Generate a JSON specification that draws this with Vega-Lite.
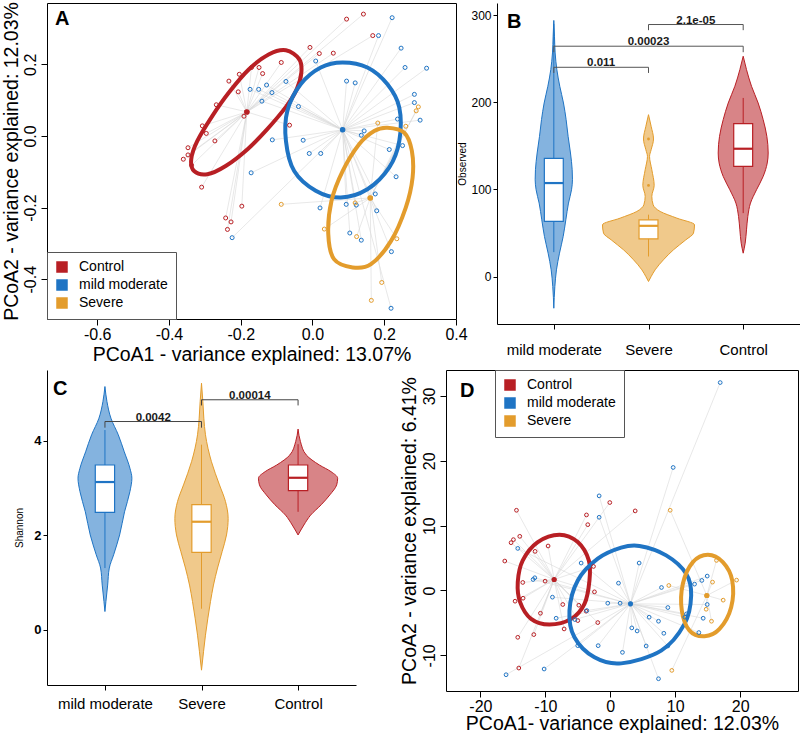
{
"$schema":"https://vega.github.io/schema/vega-lite/v6.json",
"padding":{"left":0,"top":1,"right":0,"bottom":0},
"config":{
 "font":"Liberation Sans",
 "view":{"stroke":null},
 "locale":{"number":{"decimal":".","thousands":",","grouping":[3],"currency":["$",""],"minus":"-"}},
 "axis":{"grid":false,"labelColor":"black","titleColor":"black","tickColor":"black","domainColor":"black","titleFontWeight":"normal"}
},
"datasets":{
"pcoaA":[
{"g":"Control","x":0.095,"y":0.326},{"g":"Control","x":0.142,"y":0.340},{"g":"Control","x":0.168,"y":0.280},{"g":"Control","x":-0.007,"y":0.247},{"g":"Control","x":0.019,"y":0.230},{"g":"Control","x":0.058,"y":0.231},{"g":"Control","x":-0.087,"y":0.205},{"g":"Control","x":-0.170,"y":0.191},{"g":"Control","x":-0.149,"y":0.191},{"g":"Control","x":-0.139,"y":0.174},{"g":"Control","x":-0.204,"y":0.172},{"g":"Control","x":-0.233,"y":0.153},{"g":"Control","x":-0.207,"y":0.123},{"g":"Control","x":-0.191,"y":0.055},{"g":"Control","x":-0.268,"y":0.087},{"g":"Control","x":-0.307,"y":0.028},{"g":"Control","x":-0.296,"y":0.007},{"g":"Control","x":-0.272,"y":-0.014},{"g":"Control","x":-0.347,"y":-0.033},{"g":"Control","x":-0.347,"y":-0.053},{"g":"Control","x":-0.360,"y":-0.065},{"g":"Control","x":-0.337,"y":-0.082},{"g":"Control","x":-0.309,"y":-0.143},{"g":"Control","x":-0.064,"y":0.030},{"g":"Control","x":-0.197,"y":-0.196},{"g":"Control","x":-0.242,"y":-0.229},{"g":"Control","x":-0.227,"y":-0.240},{"g":"Control","x":-0.237,"y":-0.261},
{"g":"mild moderate","x":0.222,"y":0.330},{"g":"mild moderate","x":0.184,"y":0.280},{"g":"mild moderate","x":0.247,"y":0.245},{"g":"mild moderate","x":0.009,"y":0.209},{"g":"mild moderate","x":0.258,"y":0.191},{"g":"mild moderate","x":0.318,"y":0.189},{"g":"mild moderate","x":0.095,"y":0.153},{"g":"mild moderate","x":0.119,"y":0.148},{"g":"mild moderate","x":-0.074,"y":0.152},{"g":"mild moderate","x":-0.128,"y":0.142},{"g":"mild moderate","x":-0.150,"y":0.130},{"g":"mild moderate","x":-0.174,"y":0.130},{"g":"mild moderate","x":-0.113,"y":0.121},{"g":"mild moderate","x":-0.141,"y":0.097},{"g":"mild moderate","x":-0.039,"y":0.082},{"g":"mild moderate","x":0.284,"y":0.116},{"g":"mild moderate","x":0.284,"y":0.093},{"g":"mild moderate","x":0.300,"y":0.044},{"g":"mild moderate","x":0.237,"y":0.047},{"g":"mild moderate","x":0.144,"y":0.014},{"g":"mild moderate","x":0.136,"y":0.002},{"g":"mild moderate","x":-0.026,"y":-0.012},{"g":"mild moderate","x":-0.112,"y":-0.011},{"g":"mild moderate","x":-0.009,"y":-0.049},{"g":"mild moderate","x":0.023,"y":-0.049},{"g":"mild moderate","x":0.214,"y":-0.038},{"g":"mild moderate","x":0.251,"y":-0.027},{"g":"mild moderate","x":0.233,"y":-0.114},{"g":"mild moderate","x":0.175,"y":-0.162},{"g":"mild moderate","x":0.094,"y":-0.191},{"g":"mild moderate","x":0.122,"y":-0.193},{"g":"mild moderate","x":0.021,"y":-0.201},{"g":"mild moderate","x":0.179,"y":-0.209},{"g":"mild moderate","x":0.104,"y":-0.271},{"g":"mild moderate","x":0.136,"y":-0.291},{"g":"mild moderate","x":0.220,"y":-0.323},{"g":"mild moderate","x":0.219,"y":-0.481},{"g":"mild moderate","x":-0.171,"y":-0.103},{"g":"mild moderate","x":-0.224,"y":-0.284},
{"g":"Severe","x":0.295,"y":0.081},{"g":"Severe","x":0.289,"y":0.070},{"g":"Severe","x":0.260,"y":0.027},{"g":"Severe","x":0.182,"y":0.036},{"g":"Severe","x":0.119,"y":-0.187},{"g":"Severe","x":0.033,"y":-0.260},{"g":"Severe","x":0.123,"y":-0.281},{"g":"Severe","x":0.235,"y":-0.287},{"g":"Severe","x":0.193,"y":-0.409},{"g":"Severe","x":0.164,"y":-0.459},{"g":"Severe","x":-0.087,"y":-0.191}
],
"centA":[{"g":"Control","x":-0.183,"y":0.067},{"g":"mild moderate","x":0.084,"y":0.017},{"g":"Severe","x":0.161,"y":-0.173}],
"ellA":[
{"g":"Control","i":0,"x":-0.074,"y":0.239},{"g":"Control","i":1,"x":-0.037,"y":0.214},{"g":"Control","i":2,"x":-0.031,"y":0.177},{"g":"Control","i":3,"x":-0.044,"y":0.130},{"g":"Control","i":4,"x":-0.074,"y":0.081},{"g":"Control","i":5,"x":-0.126,"y":0.019},{"g":"Control","i":6,"x":-0.181,"y":-0.037},{"g":"Control","i":7,"x":-0.242,"y":-0.084},{"g":"Control","i":8,"x":-0.293,"y":-0.107},{"g":"Control","i":9,"x":-0.330,"y":-0.098},{"g":"Control","i":10,"x":-0.338,"y":-0.065},{"g":"Control","i":11,"x":-0.321,"y":-0.014},{"g":"Control","i":12,"x":-0.279,"y":0.056},{"g":"Control","i":13,"x":-0.233,"y":0.121},{"g":"Control","i":14,"x":-0.177,"y":0.186},{"g":"Control","i":15,"x":-0.121,"y":0.228},
{"g":"mild moderate","i":0,"x":0.084,"y":0.205},{"g":"mild moderate","i":1,"x":0.153,"y":0.191},{"g":"mild moderate","i":2,"x":0.209,"y":0.144},{"g":"mild moderate","i":3,"x":0.242,"y":0.079},{"g":"mild moderate","i":4,"x":0.242,"y":-0.014},{"g":"mild moderate","i":5,"x":0.214,"y":-0.088},{"g":"mild moderate","i":6,"x":0.153,"y":-0.149},{"g":"mild moderate","i":7,"x":0.079,"y":-0.172},{"g":"mild moderate","i":8,"x":0.009,"y":-0.153},{"g":"mild moderate","i":9,"x":-0.051,"y":-0.098},{"g":"mild moderate","i":10,"x":-0.074,"y":-0.014},{"g":"mild moderate","i":11,"x":-0.070,"y":0.070},{"g":"mild moderate","i":12,"x":-0.033,"y":0.144},{"g":"mild moderate","i":13,"x":0.023,"y":0.191},
{"g":"Severe","i":0,"x":0.209,"y":0.023},{"g":"Severe","i":1,"x":0.256,"y":0.009},{"g":"Severe","i":2,"x":0.277,"y":-0.042},{"g":"Severe","i":3,"x":0.279,"y":-0.116},{"g":"Severe","i":4,"x":0.260,"y":-0.200},{"g":"Severe","i":5,"x":0.219,"y":-0.293},{"g":"Severe","i":6,"x":0.163,"y":-0.358},{"g":"Severe","i":7,"x":0.112,"y":-0.367},{"g":"Severe","i":8,"x":0.060,"y":-0.344},{"g":"Severe","i":9,"x":0.044,"y":-0.274},{"g":"Severe","i":10,"x":0.053,"y":-0.181},{"g":"Severe","i":11,"x":0.084,"y":-0.098},{"g":"Severe","i":12,"x":0.130,"y":-0.023},{"g":"Severe","i":13,"x":0.172,"y":0.014}
],
"pcoaD":[
{"g":"Control","x":-14.45,"y":12.37},{"g":"Control","x":-13.94,"y":8.35},{"g":"Control","x":-14.92,"y":7.84},{"g":"Control","x":-15.28,"y":7.37},{"g":"Control","x":-16.25,"y":4.54},{"g":"Control","x":-11.58,"y":6.03},{"g":"Control","x":-9.58,"y":6.86},{"g":"Control","x":-3.67,"y":11.65},{"g":"Control","x":-3.47,"y":10.15},{"g":"Control","x":-0.08,"y":13.56},{"g":"Control","x":3.83,"y":12.27},{"g":"Control","x":-13.48,"y":1.24},{"g":"Control","x":-10.04,"y":1.44},{"g":"Control","x":-13.43,"y":-1.19},{"g":"Control","x":-14.66,"y":-1.65},{"g":"Control","x":-10.76,"y":-3.51},{"g":"Control","x":-7.32,"y":-2.16},{"g":"Control","x":-11.78,"y":-6.80},{"g":"Control","x":-14.25,"y":-7.22},{"g":"Control","x":-7.11,"y":-5.93},{"g":"Control","x":-5.01,"y":-4.64},{"g":"Control","x":-4.85,"y":-2.27},{"g":"Control","x":-2.44,"y":-0.21},{"g":"Control","x":-1.93,"y":-4.95},{"g":"Control","x":-2.59,"y":3.71},{"g":"Control","x":-3.72,"y":-3.20},{"g":"Control","x":-14.09,"y":-11.96},
{"g":"mild moderate","x":-1.72,"y":14.59},{"g":"mild moderate","x":-1.72,"y":11.29},{"g":"mild moderate","x":-14.25,"y":6.49},{"g":"mild moderate","x":-11.89,"y":1.70},{"g":"mild moderate","x":-11.63,"y":1.96},{"g":"mild moderate","x":-4.49,"y":4.23},{"g":"mild moderate","x":-8.91,"y":-1.03},{"g":"mild moderate","x":-8.34,"y":-4.28},{"g":"mild moderate","x":-5.47,"y":-4.48},{"g":"mild moderate","x":-3.62,"y":-3.09},{"g":"mild moderate","x":-0.39,"y":-1.96},{"g":"mild moderate","x":1.26,"y":1.13},{"g":"mild moderate","x":1.51,"y":-1.96},{"g":"mild moderate","x":-5.01,"y":-8.51},{"g":"mild moderate","x":-1.87,"y":-8.51},{"g":"mild moderate","x":-10.19,"y":-12.11},{"g":"mild moderate","x":-16.05,"y":-12.99},{"g":"mild moderate","x":16.92,"y":32.06},{"g":"mild moderate","x":9.68,"y":18.97},{"g":"mild moderate","x":4.44,"y":4.23},{"g":"mild moderate","x":7.88,"y":0.46},{"g":"mild moderate","x":8.86,"y":-2.63},{"g":"mild moderate","x":5.98,"y":-4.12},{"g":"mild moderate","x":7.42,"y":-4.74},{"g":"mild moderate","x":3.31,"y":-5.77},{"g":"mild moderate","x":4.13,"y":-6.24},{"g":"mild moderate","x":8.24,"y":-6.60},{"g":"mild moderate","x":5.52,"y":-8.56},{"g":"mild moderate","x":8.86,"y":-8.56},{"g":"mild moderate","x":1.87,"y":-9.54},{"g":"mild moderate","x":7.42,"y":-13.61},{"g":"mild moderate","x":12.97,"y":0.98},{"g":"mild moderate","x":14.09,"y":1.55},{"g":"mild moderate","x":14.92,"y":2.22},{"g":"mild moderate","x":14.92,"y":-2.16},{"g":"mild moderate","x":14.30,"y":-4.28},{"g":"mild moderate","x":11.48,"y":-4.12},{"g":"mild moderate","x":11.73,"y":-3.61},{"g":"mild moderate","x":13.63,"y":-6.49},
{"g":"Severe","x":9.22,"y":12.37},{"g":"Severe","x":9.01,"y":0.77},{"g":"Severe","x":15.74,"y":1.29},{"g":"Severe","x":16.35,"y":4.64},{"g":"Severe","x":19.44,"y":1.60},{"g":"Severe","x":17.38,"y":-1.49},{"g":"Severe","x":14.76,"y":-2.89},{"g":"Severe","x":15.58,"y":-4.74},{"g":"Severe","x":9.47,"y":-12.32}
],
"centD":[{"g":"Control","x":-8.65,"y":1.70},{"g":"mild moderate","x":3.11,"y":-2.06},{"g":"Severe","x":14.86,"y":-0.77}],
"ellD":[
{"g":"Control","i":0,"x":-7.83,"y":8.61},{"g":"Control","i":1,"x":-5.01,"y":7.47},{"g":"Control","i":2,"x":-3.31,"y":4.64},{"g":"Control","i":3,"x":-3.21,"y":1.55},{"g":"Control","i":4,"x":-3.98,"y":-2.06},{"g":"Control","i":5,"x":-6.03,"y":-4.38},{"g":"Control","i":6,"x":-9.37,"y":-5.26},{"g":"Control","i":7,"x":-12.20,"y":-4.38},{"g":"Control","i":8,"x":-13.89,"y":-1.80},{"g":"Control","i":9,"x":-14.25,"y":1.29},{"g":"Control","i":10,"x":-13.48,"y":4.64},{"g":"Control","i":11,"x":-11.17,"y":7.47},
{"g":"mild moderate","i":0,"x":4.49,"y":6.86},{"g":"mild moderate","i":1,"x":8.60,"y":5.41},{"g":"mild moderate","i":2,"x":11.68,"y":2.58},{"g":"mild moderate","i":3,"x":12.45,"y":-0.77},{"g":"mild moderate","i":4,"x":11.43,"y":-5.15},{"g":"mild moderate","i":5,"x":7.83,"y":-9.28},{"g":"mild moderate","i":6,"x":1.67,"y":-11.24},{"g":"mild moderate","i":7,"x":-2.44,"y":-10.31},{"g":"mild moderate","i":8,"x":-5.52,"y":-7.22},{"g":"mild moderate","i":9,"x":-6.29,"y":-3.09},{"g":"mild moderate","i":10,"x":-5.01,"y":1.55},{"g":"mild moderate","i":11,"x":-1.93,"y":4.90},{"g":"mild moderate","i":12,"x":1.67,"y":6.60},
{"g":"Severe","i":0,"x":15.02,"y":5.52},{"g":"Severe","i":1,"x":17.33,"y":4.38},{"g":"Severe","i":2,"x":18.77,"y":1.55},{"g":"Severe","i":3,"x":18.61,"y":-2.58},{"g":"Severe","i":4,"x":16.82,"y":-5.93},{"g":"Severe","i":5,"x":14.51,"y":-7.06},{"g":"Severe","i":6,"x":12.20,"y":-6.19},{"g":"Severe","i":7,"x":11.01,"y":-3.09},{"g":"Severe","i":8,"x":11.17,"y":1.03},{"g":"Severe","i":9,"x":12.71,"y":4.38}
],
"violB":[
{"g":"mild moderate","v":294,"w":0},{"g":"mild moderate","v":275.9,"w":0.007},{"g":"mild moderate","v":256.7,"w":0.014},{"g":"mild moderate","v":237.5,"w":0.032},{"g":"mild moderate","v":218.4,"w":0.063},{"g":"mild moderate","v":199.2,"w":0.102},{"g":"mild moderate","v":180.1,"w":0.130},{"g":"mild moderate","v":160.9,"w":0.151},{"g":"mild moderate","v":141.8,"w":0.176},{"g":"mild moderate","v":122.6,"w":0.194},{"g":"mild moderate","v":111.1,"w":0.197},{"g":"mild moderate","v":99.6,"w":0.187},{"g":"mild moderate","v":84.3,"w":0.155},{"g":"mild moderate","v":65.1,"w":0.127},{"g":"mild moderate","v":46.0,"w":0.099},{"g":"mild moderate","v":26.8,"w":0.060},{"g":"mild moderate","v":7.7,"w":0.028},{"g":"mild moderate","v":-11.5,"w":0.011},{"g":"mild moderate","v":-36.4,"w":0},
{"g":"Severe","v":185.8,"w":0},{"g":"Severe","v":172.4,"w":0.028},{"g":"Severe","v":157.9,"w":0.053},{"g":"Severe","v":145.6,"w":0.028},{"g":"Severe","v":137.9,"w":0.011},{"g":"Severe","v":122.6,"w":0.035},{"g":"Severe","v":104.6,"w":0.060},{"g":"Severe","v":92.0,"w":0.035},{"g":"Severe","v":82.4,"w":0.049},{"g":"Severe","v":74.7,"w":0.123},{"g":"Severe","v":67.0,"w":0.30},{"g":"Severe","v":59.4,"w":0.486},{"g":"Severe","v":49.8,"w":0.475},{"g":"Severe","v":42.1,"w":0.394},{"g":"Severe","v":30.7,"w":0.264},{"g":"Severe","v":19.2,"w":0.158},{"g":"Severe","v":7.7,"w":0.070},{"g":"Severe","v":0,"w":0.028},{"g":"Severe","v":-5.7,"w":0},
{"g":"Control","v":252.9,"w":0},{"g":"Control","v":237.5,"w":0.035},{"g":"Control","v":218.4,"w":0.088},{"g":"Control","v":199.2,"w":0.158},{"g":"Control","v":180.1,"w":0.211},{"g":"Control","v":160.9,"w":0.25},{"g":"Control","v":141.8,"w":0.264},{"g":"Control","v":130.3,"w":0.254},{"g":"Control","v":114.9,"w":0.211},{"g":"Control","v":99.6,"w":0.141},{"g":"Control","v":84.3,"w":0.077},{"g":"Control","v":69.0,"w":0.049},{"g":"Control","v":53.6,"w":0.035},{"g":"Control","v":38.3,"w":0.021},{"g":"Control","v":26.8,"w":0}
],
"boxB":[{"g":"mild moderate","lo":28,"q1":63.2,"med":107.3,"q3":135.6,"hi":290},{"g":"Severe","lo":23,"q1":43.3,"med":58.2,"q3":65.1,"hi":71},{"g":"Control","lo":72.8,"q1":126.4,"med":146.7,"q3":175.5,"hi":205}],
"outB":[{"g":"Severe","v":157.9},{"g":"Severe","v":104.6}],
"brB":[{"a":"mild moderate","b":"Severe","y":240.2,"t":233.7,"label":"0.011"},{"a":"mild moderate","b":"Control","y":264.4,"t":257.5,"label":"0.00023"},{"a":"Severe","b":"Control","y":289.3,"t":282.8,"label":"2.1e-05"}],
"violC":[
{"g":"mild moderate","v":5.15,"w":0},{"g":"mild moderate","v":4.83,"w":0.021},{"g":"mild moderate","v":4.48,"w":0.062},{"g":"mild moderate","v":4.13,"w":0.138},{"g":"mild moderate","v":3.77,"w":0.20},{"g":"mild moderate","v":3.42,"w":0.259},{"g":"mild moderate","v":3.21,"w":0.279},{"g":"mild moderate","v":2.93,"w":0.259},{"g":"mild moderate","v":2.50,"w":0.203},{"g":"mild moderate","v":2.01,"w":0.152},{"g":"mild moderate","v":1.59,"w":0.090},{"g":"mild moderate","v":1.31,"w":0.045},{"g":"mild moderate","v":0.95,"w":0.028},{"g":"mild moderate","v":0.60,"w":0.010},{"g":"mild moderate","v":0.39,"w":0},
{"g":"Severe","v":5.22,"w":0},{"g":"Severe","v":4.83,"w":0.014},{"g":"Severe","v":4.48,"w":0.024},{"g":"Severe","v":4.13,"w":0.041},{"g":"Severe","v":3.56,"w":0.103},{"g":"Severe","v":3.07,"w":0.186},{"g":"Severe","v":2.72,"w":0.248},{"g":"Severe","v":2.36,"w":0.276},{"g":"Severe","v":2.01,"w":0.259},{"g":"Severe","v":1.66,"w":0.214},{"g":"Severe","v":1.31,"w":0.166},{"g":"Severe","v":0.95,"w":0.124},{"g":"Severe","v":0.60,"w":0.093},{"g":"Severe","v":0.25,"w":0.066},{"g":"Severe","v":-0.11,"w":0.041},{"g":"Severe","v":-0.46,"w":0.021},{"g":"Severe","v":-0.85,"w":0},
{"g":"Control","v":4.25,"w":0},{"g":"Control","v":3.99,"w":0.024},{"g":"Control","v":3.70,"w":0.086},{"g":"Control","v":3.49,"w":0.221},{"g":"Control","v":3.35,"w":0.341},{"g":"Control","v":3.21,"w":0.41},{"g":"Control","v":3.07,"w":0.40},{"g":"Control","v":2.86,"w":0.33},{"g":"Control","v":2.65,"w":0.24},{"g":"Control","v":2.43,"w":0.13},{"g":"Control","v":2.22,"w":0.06},{"g":"Control","v":2.01,"w":0}
],
"boxC":[{"g":"mild moderate","lo":1.31,"q1":2.49,"med":3.13,"q3":3.49,"hi":4.23},{"g":"Severe","lo":0.45,"q1":1.64,"med":2.29,"q3":2.65,"hi":3.92},{"g":"Control","lo":2.50,"q1":2.95,"med":3.22,"q3":3.49,"hi":3.93}],
"brC":[{"a":"mild moderate","b":"Severe","y":4.41,"t":4.28,"label":"0.0042"},{"a":"Severe","b":"Control","y":4.87,"t":4.75,"label":"0.00014"}]
},
"resolve":{"scale":{"color":"independent","stroke":"independent","x":"independent","y":"independent"},"legend":{"color":"independent"}},
"spacing":5,
"vconcat":[
{"hconcat":[
 {"width":409,"height":316,
  "view":{"stroke":"black","strokeWidth":1},
  "title":{"text":"A","anchor":"start","frame":"group","fontSize":20,"fontWeight":"bold","baseline":"alphabetic","offset":0,"dx":8,"dy":43},
  "layer":[
   {"data":{"name":"centA"},
    "mark":{"type":"point","shape":"circle","filled":true,"size":30,"opacity":1},
    "encoding":{
     "x":{"field":"x","type":"quantitative","scale":{"domain":[-0.74,0.4],"nice":false,"zero":false},
      "axis":{"values":[-0.6,-0.4,-0.2,0,0.2,0.4],"format":".1f","domain":false,"tickSize":6,"labelFontSize":16,"labelPadding":1,"labelFlush":false,"title":"PCoA1 - variance explained: 13.07%","titleFontSize":19.5,"titlePadding":3}},
     "y":{"field":"y","type":"quantitative","scale":{"domain":[-0.511,0.371],"nice":false,"zero":false},
      "axis":{"values":[-0.4,-0.2,0,0.2],"format":".1f","domain":false,"tickSize":6,"labelAngle":-90,"labelAlign":"center","labelBaseline":"bottom","labelFontSize":16,"labelPadding":3,"title":"PCoA2 - variance explained: 12.03%","titleFontSize":19.5,"titlePadding":1}},
     "color":{"field":"g","type":"nominal","scale":{"domain":["Control","mild moderate","Severe"],"range":["#b81f24","#1f74c4","#e39c2c"]},
      "legend":{"orient":"bottom-left","offset":0,"title":null,"strokeColor":"#555","fillColor":"white","padding":8,"symbolType":"square","symbolSize":100,"labelFontSize":14,"labelOffset":10,"rowPadding":2,"labelColor":"black",
      "encode":{"symbols":{"update":{"stroke":{"value":"#333"},"strokeWidth":{"value":1}}}}}}}},
   {"data":{"name":"pcoaA"},
    "transform":[{"lookup":"g","from":{"data":{"name":"centA"},"key":"g","fields":["x","y"]},"as":["cx","cy"]}],
    "mark":{"type":"rule","color":"#d9d9d9","strokeWidth":0.6},
    "encoding":{"x":{"field":"x","type":"quantitative"},"y":{"field":"y","type":"quantitative"},"x2":{"field":"cx"},"y2":{"field":"cy"}}},
   {"data":{"name":"ellA"},
    "mark":{"type":"line","interpolate":"cardinal-closed","strokeWidth":4},
    "encoding":{"x":{"field":"x","type":"quantitative"},"y":{"field":"y","type":"quantitative"},"order":{"field":"i","type":"quantitative"},
     "color":{"field":"g","type":"nominal"}}},
   {"data":{"name":"pcoaA"},
    "mark":{"type":"point","shape":"circle","filled":false,"size":16,"strokeWidth":1,"opacity":1},
    "encoding":{"x":{"field":"x","type":"quantitative"},"y":{"field":"y","type":"quantitative"},
     "color":{"field":"g","type":"nominal"}}},
   {"data":{"name":"centA"},
    "mark":{"type":"point","shape":"circle","filled":true,"size":30,"opacity":1},
    "encoding":{"x":{"field":"x","type":"quantitative"},"y":{"field":"y","type":"quantitative"},
     "color":{"field":"g","type":"nominal"}}}
  ]},
 {"width":303,"height":321,
  "title":{"text":"B","anchor":"start","frame":"group","fontSize":20,"fontWeight":"bold","baseline":"alphabetic","offset":0,"dx":10,"dy":45},
  "layer":[
   {"data":{"name":"violB"},
    "transform":[{"calculate":"indexof(['mild moderate','Severe','Control'], datum.g)+1","as":"p"},{"calculate":"datum.p-datum.w","as":"lo"},{"calculate":"datum.p+datum.w","as":"hi"}],
    "mark":{"type":"area","orient":"horizontal","interpolate":"monotone","fillOpacity":0.55,"strokeWidth":1},
    "encoding":{
     "y":{"field":"v","type":"quantitative","scale":{"domain":[-54.5,314],"nice":false,"zero":false},
      "axis":{"values":[0,100,200,300],"tickSize":4,"labelFontSize":12,"labelPadding":2,"title":"Observed","titleFontSize":10,"titlePadding":3}},
     "x":{"field":"lo","type":"quantitative","scale":{"domain":[0.4,3.6],"nice":false,"zero":false},
      "axis":{"values":[1,2,3],"labelExpr":"datum.value==1?'mild moderate':datum.value==2?'Severe':'Control'","tickSize":5,"labelFontSize":15,"labelPadding":13,"title":null}},
     "x2":{"field":"hi"},
     "color":{"field":"g","type":"nominal","scale":{"domain":["Control","mild moderate","Severe"],"range":["#b81f24","#1f74c4","#e39c2c"]},"legend":null},
     "stroke":{"field":"g","type":"nominal","scale":{"domain":["Control","mild moderate","Severe"],"range":["#b81f24","#1f74c4","#e39c2c"]},"legend":null}}},
   {"data":{"name":"boxB"},
    "transform":[{"calculate":"indexof(['mild moderate','Severe','Control'], datum.g)+1","as":"p"}],
    "mark":{"type":"rule","strokeWidth":1},
    "encoding":{"x":{"field":"p","type":"quantitative"},"y":{"field":"lo","type":"quantitative"},"y2":{"field":"hi"},
     "stroke":{"field":"g","type":"nominal","legend":null}}},
   {"data":{"name":"boxB"},
    "transform":[{"calculate":"indexof(['mild moderate','Severe','Control'], datum.g)+1","as":"p"},{"calculate":"datum.p-0.1","as":"bl"},{"calculate":"datum.p+0.1","as":"bh"}],
    "mark":{"type":"rect","fill":"white","strokeWidth":1.2},
    "encoding":{"x":{"field":"bl","type":"quantitative"},"x2":{"field":"bh"},"y":{"field":"q1","type":"quantitative"},"y2":{"field":"q3"},
     "stroke":{"field":"g","type":"nominal","legend":null}}},
   {"data":{"name":"boxB"},
    "transform":[{"calculate":"indexof(['mild moderate','Severe','Control'], datum.g)+1","as":"p"},{"calculate":"datum.p-0.1","as":"bl"},{"calculate":"datum.p+0.1","as":"bh"}],
    "mark":{"type":"rule","strokeWidth":2.2},
    "encoding":{"x":{"field":"bl","type":"quantitative"},"x2":{"field":"bh"},"y":{"field":"med","type":"quantitative"},
     "stroke":{"field":"g","type":"nominal","legend":null}}},
   {"data":{"name":"outB"},
    "transform":[{"calculate":"indexof(['mild moderate','Severe','Control'], datum.g)+1","as":"p"}],
    "mark":{"type":"circle","size":8,"opacity":1,"color":"#e39c2c"},
    "encoding":{"x":{"field":"p","type":"quantitative"},"y":{"field":"v","type":"quantitative"}}},
   {"data":{"name":"brB"},
    "transform":[{"calculate":"indexof(['mild moderate','Severe','Control'], datum.a)+1","as":"pa"},{"calculate":"indexof(['mild moderate','Severe','Control'], datum.b)+1","as":"pb"}],
    "mark":{"type":"rule","color":"#555","strokeWidth":1},
    "encoding":{"x":{"field":"pa","type":"quantitative"},"x2":{"field":"pb"},"y":{"field":"y","type":"quantitative"}}},
   {"data":{"name":"brB"},
    "transform":[{"calculate":"indexof(['mild moderate','Severe','Control'], datum.a)+1","as":"pa"}],
    "mark":{"type":"rule","color":"#555","strokeWidth":1},
    "encoding":{"x":{"field":"pa","type":"quantitative"},"y":{"field":"y","type":"quantitative"},"y2":{"field":"t"}}},
   {"data":{"name":"brB"},
    "transform":[{"calculate":"indexof(['mild moderate','Severe','Control'], datum.b)+1","as":"pb"}],
    "mark":{"type":"rule","color":"#555","strokeWidth":1},
    "encoding":{"x":{"field":"pb","type":"quantitative"},"y":{"field":"y","type":"quantitative"},"y2":{"field":"t"}}},
   {"data":{"name":"brB"},
    "transform":[{"calculate":"(indexof(['mild moderate','Severe','Control'], datum.a)+indexof(['mild moderate','Severe','Control'], datum.b))/2+1","as":"pm"}],
    "mark":{"type":"text","fontSize":11.5,"fontWeight":"bold","baseline":"alphabetic","dy":-1,"color":"#1a1a1a"},
    "encoding":{"x":{"field":"pm","type":"quantitative"},"y":{"field":"y","type":"quantitative"},"text":{"field":"label"}}}
  ]}
 ],"spacing":41,"bounds":"flush",
 "resolve":{"scale":{"color":"independent","stroke":"independent","x":"independent","y":"independent"},"legend":{"color":"independent"}}},
{"hconcat":[
 {"width":309,"height":315,
  "title":{"text":"C","anchor":"start","frame":"group","fontSize":20,"fontWeight":"bold","baseline":"alphabetic","offset":0,"dx":6,"dy":45},
  "layer":[
   {"data":{"name":"violC"},
    "transform":[{"calculate":"indexof(['mild moderate','Severe','Control'], datum.g)+1","as":"p"},{"calculate":"datum.p-datum.w","as":"lo"},{"calculate":"datum.p+datum.w","as":"hi"}],
    "mark":{"type":"area","orient":"horizontal","interpolate":"monotone","fillOpacity":0.55,"strokeWidth":1},
    "encoding":{
     "y":{"field":"v","type":"quantitative","scale":{"domain":[-1.164,5.5],"nice":false,"zero":false},
      "axis":{"values":[0,2,4],"tickSize":4,"labelFontSize":13,"labelFontWeight":"bold","labelPadding":2,"title":"Shannon","titleFontSize":10,"titlePadding":9}},
     "x":{"field":"lo","type":"quantitative","scale":{"domain":[0.4,3.6],"nice":false,"zero":false},
      "axis":{"values":[1,2,3],"labelExpr":"datum.value==1?'mild moderate':datum.value==2?'Severe':'Control'","tickSize":5,"labelFontSize":15,"labelPadding":6,"title":null}},
     "x2":{"field":"hi"},
     "color":{"field":"g","type":"nominal","scale":{"domain":["Control","mild moderate","Severe"],"range":["#b81f24","#1f74c4","#e39c2c"]},"legend":null},
     "stroke":{"field":"g","type":"nominal","scale":{"domain":["Control","mild moderate","Severe"],"range":["#b81f24","#1f74c4","#e39c2c"]},"legend":null}}},
   {"data":{"name":"boxC"},
    "transform":[{"calculate":"indexof(['mild moderate','Severe','Control'], datum.g)+1","as":"p"}],
    "mark":{"type":"rule","strokeWidth":1},
    "encoding":{"x":{"field":"p","type":"quantitative"},"y":{"field":"lo","type":"quantitative"},"y2":{"field":"hi"},
     "stroke":{"field":"g","type":"nominal","legend":null}}},
   {"data":{"name":"boxC"},
    "transform":[{"calculate":"indexof(['mild moderate','Severe','Control'], datum.g)+1","as":"p"},{"calculate":"datum.p-0.1","as":"bl"},{"calculate":"datum.p+0.1","as":"bh"}],
    "mark":{"type":"rect","fill":"white","strokeWidth":1.2},
    "encoding":{"x":{"field":"bl","type":"quantitative"},"x2":{"field":"bh"},"y":{"field":"q1","type":"quantitative"},"y2":{"field":"q3"},
     "stroke":{"field":"g","type":"nominal","legend":null}}},
   {"data":{"name":"boxC"},
    "transform":[{"calculate":"indexof(['mild moderate','Severe','Control'], datum.g)+1","as":"p"},{"calculate":"datum.p-0.1","as":"bl"},{"calculate":"datum.p+0.1","as":"bh"}],
    "mark":{"type":"rule","strokeWidth":2.2},
    "encoding":{"x":{"field":"bl","type":"quantitative"},"x2":{"field":"bh"},"y":{"field":"med","type":"quantitative"},
     "stroke":{"field":"g","type":"nominal","legend":null}}},
   {"data":{"name":"brC"},
    "transform":[{"calculate":"indexof(['mild moderate','Severe','Control'], datum.a)+1","as":"pa"},{"calculate":"indexof(['mild moderate','Severe','Control'], datum.b)+1","as":"pb"}],
    "mark":{"type":"rule","color":"#444","strokeWidth":1},
    "encoding":{"x":{"field":"pa","type":"quantitative"},"x2":{"field":"pb"},"y":{"field":"y","type":"quantitative"}}},
   {"data":{"name":"brC"},
    "transform":[{"calculate":"indexof(['mild moderate','Severe','Control'], datum.a)+1","as":"pa"}],
    "mark":{"type":"rule","color":"#444","strokeWidth":1},
    "encoding":{"x":{"field":"pa","type":"quantitative"},"y":{"field":"y","type":"quantitative"},"y2":{"field":"t"}}},
   {"data":{"name":"brC"},
    "transform":[{"calculate":"indexof(['mild moderate','Severe','Control'], datum.b)+1","as":"pb"}],
    "mark":{"type":"rule","color":"#444","strokeWidth":1},
    "encoding":{"x":{"field":"pb","type":"quantitative"},"y":{"field":"y","type":"quantitative"},"y2":{"field":"t"}}},
   {"data":{"name":"brC"},
    "transform":[{"calculate":"(indexof(['mild moderate','Severe','Control'], datum.a)+indexof(['mild moderate','Severe','Control'], datum.b))/2+1","as":"pm"}],
    "mark":{"type":"text","fontSize":11.5,"fontWeight":"bold","baseline":"alphabetic","dy":-1,"color":"#1a1a1a"},
    "encoding":{"x":{"field":"pm","type":"quantitative"},"y":{"field":"y","type":"quantitative"},"text":{"field":"label"}}}
  ]},
 {"width":352,"height":321,
  "view":{"stroke":"black","strokeWidth":1},
  "title":{"text":"D","anchor":"start","frame":"group","fontSize":20,"fontWeight":"bold","baseline":"alphabetic","offset":0,"dx":14,"dy":47},
  "layer":[
   {"data":{"name":"centD"},
    "mark":{"type":"point","shape":"circle","filled":true,"size":26,"opacity":1},
    "encoding":{
     "x":{"field":"x","type":"quantitative","scale":{"domain":[-25.3,28.9],"nice":false,"zero":false},
      "axis":{"values":[-20,-10,0,10,20],"format":"d","domain":false,"tickSize":6,"labelFontSize":16,"labelPadding":1,"labelFlush":false,"title":"PCoA1- variance explained: 12.03%","titleFontSize":19.5,"titlePadding":0}},
     "y":{"field":"y","type":"quantitative","scale":{"domain":[-15.5,34.0],"nice":false,"zero":false},
      "axis":{"values":[-10,0,10,20,30],"format":"d","domain":false,"tickSize":6,"labelAngle":-90,"labelAlign":"center","labelBaseline":"bottom","labelFontSize":16,"labelPadding":3,"title":"PCoA2 - variance explained: 6.41%","titleFontSize":19.5,"titlePadding":2}},
     "color":{"field":"g","type":"nominal","scale":{"domain":["Control","mild moderate","Severe"],"range":["#b81f24","#1f74c4","#e39c2c"]},
      "legend":{"orient":"none","legendX":49,"legendY":0,"title":null,"strokeColor":"#555","fillColor":"white","padding":8,"symbolType":"square","symbolSize":100,"labelFontSize":14,"labelOffset":10,"rowPadding":2,"labelColor":"black",
      "encode":{"symbols":{"update":{"stroke":{"value":"#333"},"strokeWidth":{"value":1}}}}}}}},
   {"data":{"name":"pcoaD"},
    "transform":[{"lookup":"g","from":{"data":{"name":"centD"},"key":"g","fields":["x","y"]},"as":["cx","cy"]}],
    "mark":{"type":"rule","color":"#d9d9d9","strokeWidth":0.6},
    "encoding":{"x":{"field":"x","type":"quantitative"},"y":{"field":"y","type":"quantitative"},"x2":{"field":"cx"},"y2":{"field":"cy"}}},
   {"data":{"name":"ellD"},
    "mark":{"type":"line","interpolate":"cardinal-closed","strokeWidth":4},
    "encoding":{"x":{"field":"x","type":"quantitative"},"y":{"field":"y","type":"quantitative"},"order":{"field":"i","type":"quantitative"},
     "color":{"field":"g","type":"nominal"}}},
   {"data":{"name":"pcoaD"},
    "mark":{"type":"point","shape":"circle","filled":false,"size":14,"strokeWidth":1,"opacity":1},
    "encoding":{"x":{"field":"x","type":"quantitative"},"y":{"field":"y","type":"quantitative"},
     "color":{"field":"g","type":"nominal"}}},
   {"data":{"name":"centD"},
    "mark":{"type":"point","shape":"circle","filled":true,"size":26,"opacity":1},
    "encoding":{"x":{"field":"x","type":"quantitative"},"y":{"field":"y","type":"quantitative"},
     "color":{"field":"g","type":"nominal"}}}
  ]}
 ],"spacing":90,"bounds":"flush",
 "resolve":{"scale":{"color":"independent","stroke":"independent","x":"independent","y":"independent"},"legend":{"color":"independent"}}}
]
}
